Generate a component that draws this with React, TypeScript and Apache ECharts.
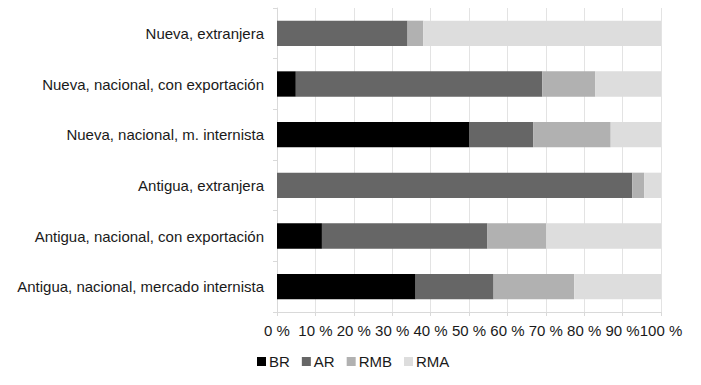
import React, { useEffect, useRef } from "react";
import * as echarts from "echarts";

const categories = [
  "Nueva, extranjera",
  "Nueva, nacional, con exportación",
  "Nueva, nacional, m. internista",
  "Antigua, extranjera",
  "Antigua, nacional, con exportación",
  "Antigua, nacional, mercado internista",
];
const seriesNames = ["BR", "AR", "RMB", "RMA"];
const brValues = [0, 4.9, 50.0, 0, 11.7, 36.1];
const arValues = [34.0, 64.2, 16.7, 92.5, 43.1, 20.3];
const rmbValues = [4.1, 13.8, 20.2, 3.1, 15.3, 21.0];
const rmaValues = [61.9, 17.1, 13.1, 4.4, 29.9, 22.6];
const seriesColors = ["#000000", "#666666", "#b1b1b1", "#dddddd"];

export default function App() {
  const ref = useRef<HTMLDivElement>(null);
  useEffect(() => {
    if (!ref.current) return;
    const chart = echarts.init(ref.current, undefined, { renderer: "svg" });
    const font = "'Liberation Sans', Arial, sans-serif";
    const values = [brValues, arValues, rmbValues, rmaValues];
    chart.setOption({
      animation: false,
      textStyle: { fontFamily: font },
      grid: { left: 277, right: 40, top: 8, bottom: 73 },
      legend: {
        data: seriesNames,
        left: 257,
        top: 354,
        padding: 0,
        itemWidth: 9,
        itemHeight: 9,
        itemGap: 12,
        icon: "rect",
        textStyle: { fontSize: 15, color: "#1a1a1a", fontFamily: font, padding: [0, 0, 0, -2] },
      },
      xAxis: {
        type: "value",
        min: 0,
        max: 100,
        interval: 10,
        axisLine: { show: true, lineStyle: { color: "#d9d9d9" } },
        axisTick: { show: true, length: 4, lineStyle: { color: "#d9d9d9" } },
        splitLine: { show: true, lineStyle: { color: "#e3e3e3" } },
        axisLabel: {
          formatter: "{value} %",
          fontSize: 15,
          color: "#1a1a1a",
          fontFamily: font,
          margin: 11,
        },
      },
      yAxis: {
        type: "category",
        data: categories,
        inverse: true,
        axisLine: { show: true, lineStyle: { color: "#d9d9d9" } },
        axisTick: { show: true, length: 4, lineStyle: { color: "#d9d9d9" } },
        axisLabel: { fontSize: 15, color: "#1a1a1a", fontFamily: font, margin: 13 },
      },
      series: seriesNames.map((name, i) => ({
        name,
        type: "bar",
        stack: "total",
        data: values[i],
        barWidth: "50%",
        itemStyle: { color: seriesColors[i] },
      })),
    });
    return () => chart.dispose();
  }, []);
  return <div ref={ref} style={{ width: 701, height: 385, position: "absolute", left: 0, top: 0 }} />;
}
